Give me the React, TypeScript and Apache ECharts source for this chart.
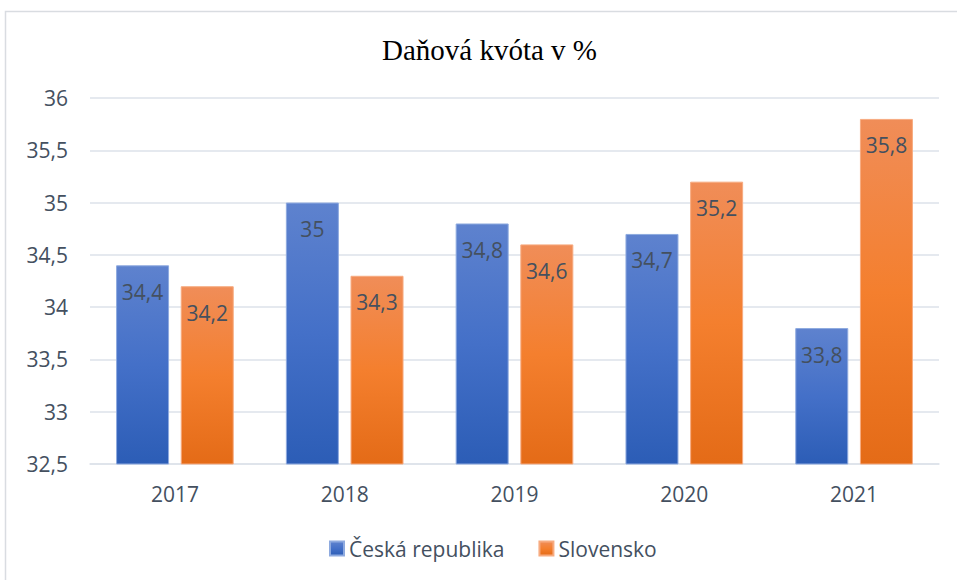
import React, { useEffect, useRef } from "react";
import * as echarts from "echarts";

const years = ["2017", "2018", "2019", "2020", "2021"];
const czValues = [34.4, 35, 34.8, 34.7, 33.8];
const skValues = [34.2, 34.3, 34.6, 35.2, 35.8];
const seriesNames = ["Česká republika", "Slovensko"];
const titleText = "Daňová kvóta v %";

const fmt = (v: number) => String(v).replace(".", ",");

export default function App() {
  const ref = useRef<HTMLDivElement>(null);
  useEffect(() => {
    if (!ref.current) return;
    const chart = echarts.init(ref.current, null, { renderer: "svg" });
    const grad = (top: string, mid: string, bottom: string) =>
      new echarts.graphic.LinearGradient(0, 0, 0, 1, [
        { offset: 0, color: top },
        { offset: 0.5, color: mid },
        { offset: 1, color: bottom },
      ]);
    const labelStyle = {
      show: true,
      position: "insideTop" as const,
      distance: 16,
      color: "#44505f",
      fontSize: 21,
      fontFamily: "Open Sans",
      formatter: (p: any) => fmt(p.value),
    };
    chart.setOption({
      animation: false,
      backgroundColor: "#ffffff",
      graphic: [
        {
          type: "rect",
          shape: { x: 5.5, y: 11.5, width: 970, height: 600 },
          style: { fill: "none", stroke: "#d9dce1", lineWidth: 1.5 },
          z: -1,
        },
      ],
      title: {
        text: titleText,
        left: 377,
        top: 30,
        textStyle: {
          fontFamily: "Liberation Serif",
          fontWeight: "normal",
          fontSize: 29,
          color: "#000000",
        },
      },
      legend: {
        bottom: 16,
        left: 324,
        itemWidth: 14,
        itemHeight: 14,
        itemGap: 34,
        icon: "rect",
        textStyle: { fontFamily: "Open Sans", fontSize: 21, color: "#44505f" },
        data: seriesNames,
      },
      grid: { left: 90, right: 18, top: 98, bottom: 116 },
      xAxis: {
        type: "category",
        data: years,
        axisLine: { show: true, lineStyle: { color: "#dde2ea", width: 1.5 } },
        axisTick: { show: false },
        axisLabel: {
          fontFamily: "Open Sans",
          fontSize: 21,
          color: "#44505f",
          margin: 19,
        },
      },
      yAxis: {
        type: "value",
        min: 32.5,
        max: 36,
        interval: 0.5,
        axisLine: { show: false },
        axisTick: { show: false },
        splitLine: { lineStyle: { color: "#dde2ea", width: 1.5 } },
        axisLabel: {
          fontFamily: "Open Sans",
          fontSize: 21,
          color: "#44505f",
          margin: 22,
          formatter: (v: number) => fmt(v),
        },
      },
      series: [
        {
          name: seriesNames[0],
          type: "bar",
          data: czValues,
          barWidth: 53,
          barGap: "22%",
          itemStyle: {
            color: grad("#5e82ce", "#4470c8", "#2c5db6"),
            borderColor: "#8eaadf",
            borderWidth: 1,
          },
          label: labelStyle,
        },
        {
          name: seriesNames[1],
          type: "bar",
          data: skValues,
          barWidth: 53,
          itemStyle: {
            color: grad("#f08d58", "#f47f2e", "#e46b17"),
            borderColor: "#f7ab80",
            borderWidth: 1,
          },
          label: labelStyle,
        },
      ],
    });
    return () => chart.dispose();
  }, []);
  return (
    <div
      ref={ref}
      style={{ position: "fixed", left: 0, top: 0, width: 957, height: 580 }}
    />
  );
}
